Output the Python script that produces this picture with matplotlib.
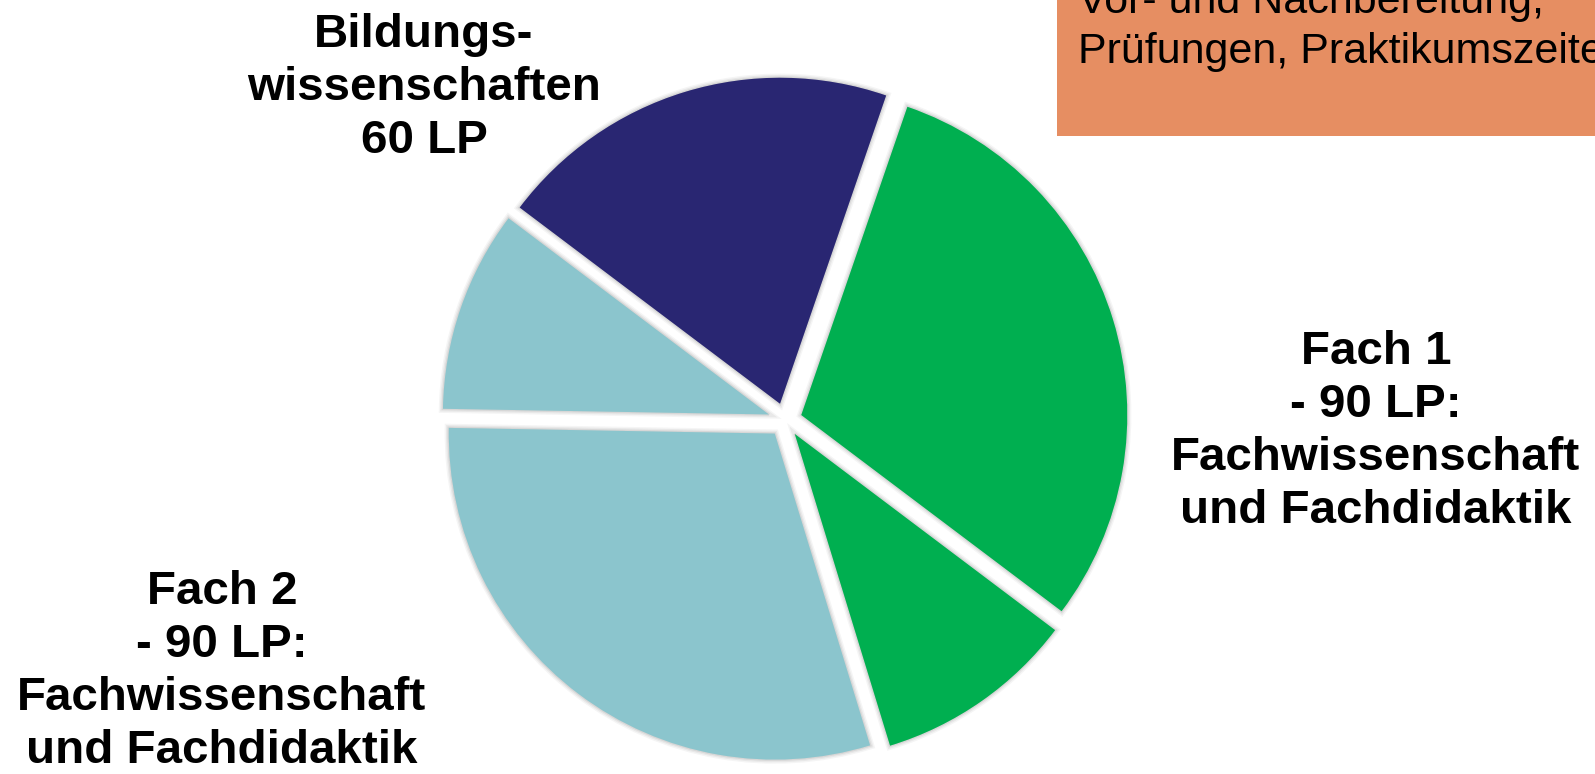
import matplotlib
matplotlib.use('Agg')
import matplotlib.pyplot as plt
import matplotlib.patheffects as pe
from matplotlib.patches import Rectangle

# Leistungspunkte je Bereich (Uhrzeigersinn, ab Bildungswissenschaften)
slice_names = ['Bildungswissenschaften', 'Fach 1 (groß)', 'Fach 1 (klein)', 'Fach 2 (groß)', 'Fach 2 (klein)']
slice_lp = [60, 90, 30, 90, 30]
slice_colors = ['#292672', '#00AF50', '#00AF50', '#8BC5CD', '#8BC5CD']

label_bildung = 'Bildungs-\nwissenschaften\n60 LP'
label_fach1 = 'Fach 1\n- 90 LP:\nFachwissenschaft\nund Fachdidaktik'
label_fach2 = 'Fach 2\n- 90 LP:\nFachwissenschaft\nund Fachdidaktik'
box_text = 'Vor- und Nachbereitung,\nPrüfungen, Praktikumszeiten'

W, H = 1595, 774
fig = plt.figure(figsize=(W / 100, H / 100), dpi=100)
ax = fig.add_axes([0, 0, 1, 1])

def Y(y):   # top-down pixel -> axes data
    return H - y

wedges, _ = ax.pie(slice_lp, colors=slice_colors, startangle=143, counterclock=False,
                   center=(785, Y(420)), radius=326, explode=[17] * len(slice_lp),
                   wedgeprops=dict(linewidth=0, edgecolor='none'), frame=True)
ax.set_xlim(0, W)
ax.set_ylim(0, H)
ax.set_aspect('auto')
ax.axis('off')

# soft grey glow round each slice
for w in wedges:
    w.set_path_effects([
        pe.Stroke(linewidth=6, foreground='black', alpha=0.04),
        pe.Stroke(linewidth=4, foreground='black', alpha=0.05),
        pe.Stroke(linewidth=2, foreground='black', alpha=0.07),
        pe.Normal()])

# orange box, top right (cut by the edge)
ax.add_patch(Rectangle((1057, Y(136)), 700, 300, facecolor='#E68E62', edgecolor='none'))
ax.text(1078, Y(63), box_text, fontsize=31, family='Liberation Sans',
        ha='left', va='baseline', linespacing=1.32, color='black')

# va='baseline' anchors the last line
bold = dict(fontsize=34.2, family='Liberation Sans', fontweight='bold',
            ha='center', va='baseline', multialignment='center', linespacing=1.26, color='black')
ax.text(424, Y(153), label_bildung, **bold)
ax.text(1376, Y(523), label_fach1, **bold)
ax.text(222, Y(763), label_fach2, **bold)

fig.savefig('out.png', dpi=100, facecolor='white')
